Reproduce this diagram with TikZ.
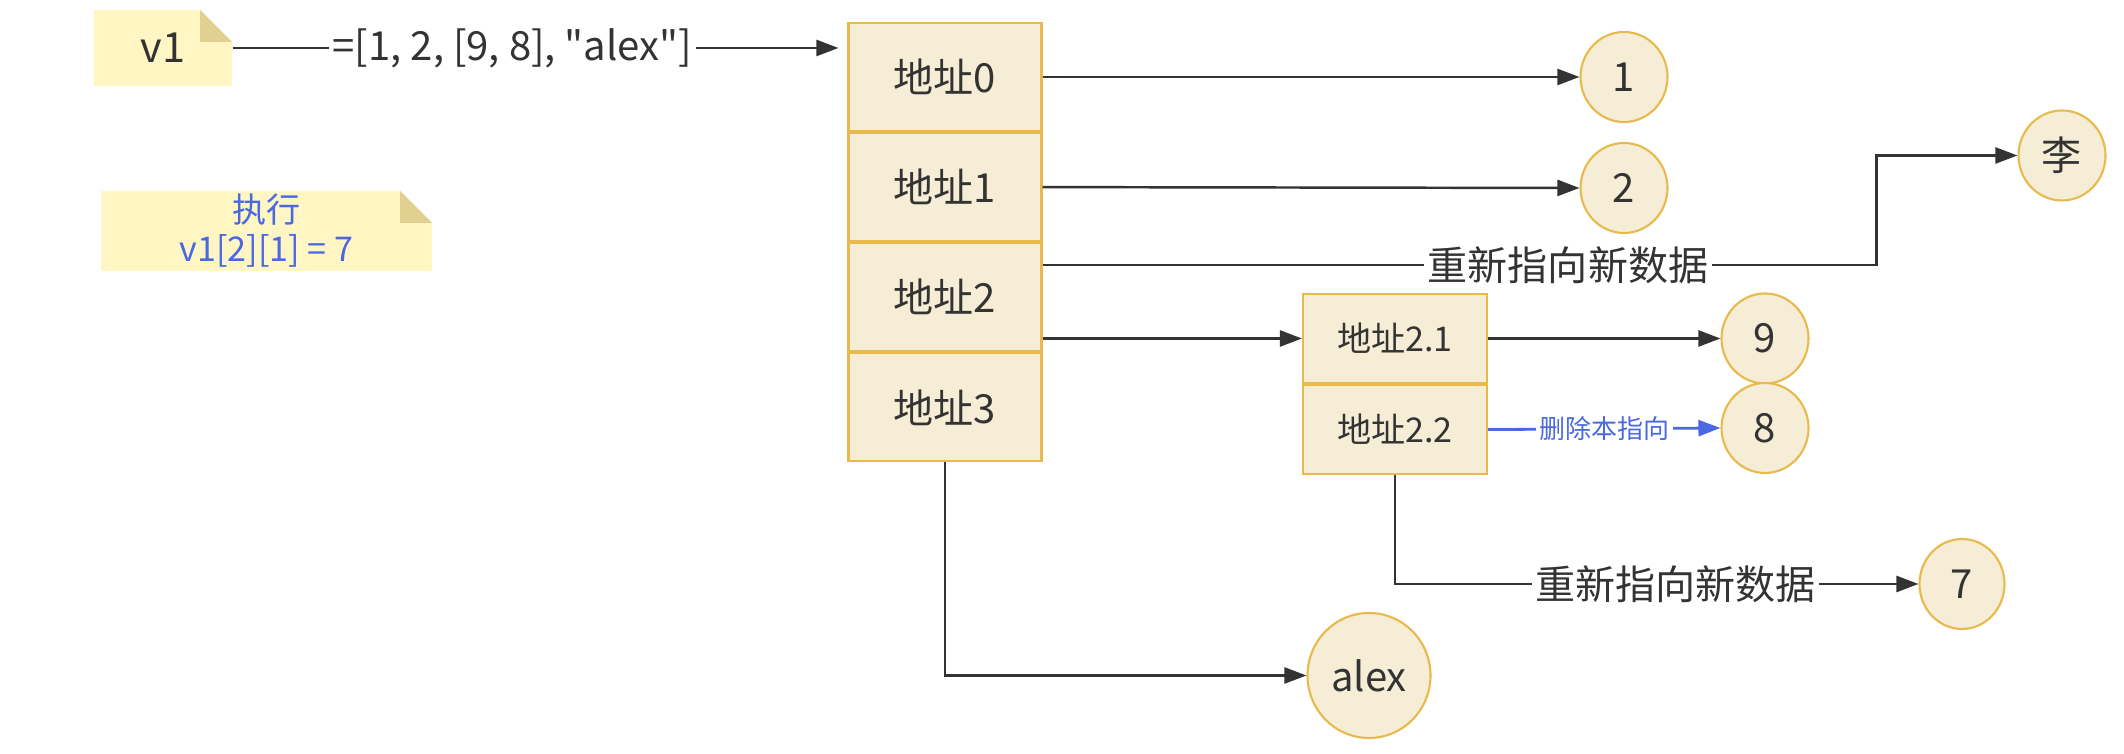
\documentclass[tikz,border=0pt]{standalone}
\usepackage{fontspec}
\setmainfont{Noto Sans CJK SC}[Ligatures=TeXOff]
\usetikzlibrary{arrows.meta,shapes.geometric,positioning}

\definecolor{cellfill}{RGB}{245,237,214}
\definecolor{cellline}{RGB}{232,185,75}
\definecolor{notefill}{RGB}{255,246,196}
\definecolor{notefold}{RGB}{224,209,145}
\definecolor{ink}{RGB}{51,51,51}
\definecolor{blueink}{RGB}{74,104,226}

\begin{document}
\begin{tikzpicture}[x = 1cm, y = 1cm,
    cell/.style = {rectangle, draw=cellline, fill=cellfill, line width=0.6pt, minimum width=1.93cm, minimum height=1.08cm, text=ink, font=\fontsize{11.4}{13.7}\selectfont},
    subcell/.style = {cell, minimum width=1.84cm, minimum height=0.89cm, font=\fontsize{9.7}{11.6}\selectfont},
    val/.style = {ellipse, draw=cellline, fill=cellfill, line width=0.6pt, minimum width=0.87cm, minimum height=0.90cm, inner sep=0pt, text=ink, font=\fontsize{11.4}{13.7}\selectfont},
    note/.style = {rectangle, fill=notefill, text=ink, inner sep=0pt, path picture={
        \fill[white] (path picture bounding box.north east) ++(-0.32,0) -- ++(0.32,0) -- ++(0,-0.32) -- cycle;
        \fill[notefold] (path picture bounding box.north east) ++(-0.32,0) -- ++(0,-0.32) -- ++(0.32,0) -- cycle;}},
    link/.style = {draw=ink, line width=0.7pt, -{Triangle[length=0.22cm, width=0.16cm]}},
    lbl/.style = {fill=white, inner sep=1pt, text=ink, font=\fontsize{11.4}{13.7}\selectfont}]
    \useasboundingbox (0,0) rectangle (21.24,7.54);
    % notes
    \node[note, minimum width=1.38cm, minimum height=0.76cm, font=\fontsize{11.8}{14}\selectfont] (v1) at (1.63,7.06) {v1};
    \node[note, minimum width=3.31cm, minimum height=0.80cm, text=blueink, align=center, font=\fontsize{9.7}{11.1}\selectfont] (exec) at (2.665,5.23) {执行\\v1[2][1] = 7};
    % outer list
    \node[cell] (a0) at (9.45,6.77) {地址0};
    \node[cell, below=0pt of a0] (a1) {地址1};
    \node[cell, below=0pt of a1] (a2) {地址2};
    \node[cell, below=0pt of a2] (a3) {地址3};
    % inner list
    \node[subcell] (a21) at (13.95,4.155) {地址2.1};
    \node[subcell, below=0pt of a21] (a22) {地址2.2};
    % values
    \node[val] (n1) at (16.24,6.77) {1};
    \node[val] (n2) at (16.24,5.66) {2};
    \node[val] (li) at (20.62,5.985) {李};
    \node[val] (n9) at (17.65,4.155) {9};
    \node[val] (n8) at (17.65,3.26) {8};
    \node[val, minimum width=0.85cm] (n7) at (19.62,1.70) {7};
    \node[val, minimum width=1.23cm, minimum height=1.25cm] (alex) at (13.69,0.785) {alex};
    % pointers
    \draw[link, shorten >=0.09cm] (v1.east) -- node[lbl, pos=0.455] {=[1, 2, [9, 8], "alex"]} (v1.east -| a0.west);
    \draw[link] (a0.east) -- (n1.west);
    \draw[link] (a1.east) -- (n2.west);
    \draw[link] ([yshift=0.32cm]a2.east) -- node[lbl, pos=0.63] {重新指向新数据} ++(8.34,0) |- (li.west);
    \draw[link] (a21.west -| a2.east) -- (a21.west);
    \draw[link] (a21.east) -- (n9.west);
    \draw[link, draw=blueink, line width=0.8pt] (a22.east) -- node[lbl, text=blueink, font=\fontsize{7.4}{9}\selectfont] {删除本指向} (n8.west);
    \draw[link] (a22.south) |- node[lbl, pos=0.768] {重新指向新数据} (n7.west);
    \draw[link] (a3.south) |- (alex.west);
\end{tikzpicture}
\end{document}
